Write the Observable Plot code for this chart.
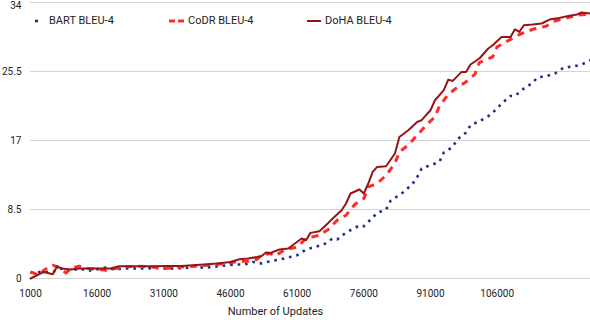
<!DOCTYPE html>
<html>
<head>
<meta charset="utf-8">
<script src="https://cdn.jsdelivr.net/npm/d3@7"></script>
<script src="https://cdn.jsdelivr.net/npm/@observablehq/plot@0.6"></script>
<style>
  html, body { margin: 0; padding: 0; background: #fff; }
  #wrap { position: relative; width: 590px; height: 320px; font-family: Roboto, "Noto Sans", sans-serif; }
  #legend { position: absolute; top: 14px; left: 0; width: 590px; height: 16px; font-size: 11px; color: #222; }
  .item { position: absolute; display: flex; align-items: center; gap: 4px; white-space: nowrap; }
</style>
</head>
<body>
<div id="wrap"></div>
<script>
// ---- data ----
const seriesNames = ["BART BLEU-4", "CoDR BLEU-4", "DoHA BLEU-4"];
const seriesColors = ["#1c2e8c", "#ff2b2b", "#981414"];

const bartX = [1000,3000,6000,8000,10000,12000,14000,18000,20000,22000,25000,27000,29000,31000,33000,36000,38000,40000,42000,44000,47000,49000,51000,53000,55000,57000,59000,61000,63000,65000,67000,69000,70000,72000,74000,75000,76000,78000,79000,81000,82000,84000,85000,87000,88000,89000,91000,93000,94000,96000,97000,99000,100000,102000,104000,106000,107000,109000,110000,112000,114000,115000,117000,119000,121000,123000,125000,127000];
const bartY = [0.7,0.81,0.81,1.23,0.94,1.23,0.94,1.35,1.11,1.23,1.23,1.23,1.31,1.23,1.23,1.31,1.55,1.31,1.43,1.55,1.72,1.72,2.04,1.85,2.13,2.34,2.59,2.87,3.57,3.89,4.19,4.93,4.8,5.67,6.23,6.53,6.44,7.51,8.08,8.5,9.56,10.3,10.67,11.7,12.48,13.55,13.96,14.36,15.52,16.21,17.12,17.98,18.88,19.38,19.99,20.94,21.56,22.49,22.49,23.4,24.1,24.76,24.92,25.25,25.99,26.11,26.36,26.89];

const codrX = [1000,3000,4000,6000,7000,9000,10000,12000,14000,18000,20000,22000,25000,28000,31000,33000,35000,39000,43000,45000,48000,50000,52000,53000,55000,56000,58000,61000,63000,66000,68000,70000,72000,74000,76000,77000,79000,81000,83000,84000,86000,88000,90000,92000,93000,95000,97000,99000,101000,102000,105000,106000,108000,111000,114000,117000,119000,122000,124000,127000];
const codrY = [0.81,0.41,1.02,1.64,1.43,0.69,1.23,1.52,1.23,1.02,1.23,1.43,1.52,1.43,1.23,1.31,1.43,1.55,1.76,1.85,2.13,2.13,2.38,2.87,3.08,2.75,3.49,3.89,4.93,5.33,6.04,7.18,7.8,9.15,9.85,11.28,11.7,12.72,14.17,15.6,16.42,17.65,18.88,19.9,21.22,22.7,23.53,24.22,25.17,26.6,27.3,28.53,29.15,30.06,30.7,31.08,31.73,32.15,32.43,32.56];

const dohaX = [1000,3000,4000,6000,7000,8000,10000,12000,15000,19000,21000,25000,29000,31000,35000,40000,43000,46000,48000,50000,52000,53000,54000,55000,57000,59000,62000,63000,64000,66000,68000,69000,71000,72000,73000,75000,76000,77000,78000,79000,81000,83000,84000,86000,88000,89000,91000,92000,94000,95000,96000,98000,99000,100000,102000,104000,105000,107000,109000,110000,111000,112000,114000,116000,118000,120000,122000,124000,125000,127000];
const dohaY = [0.0,0.53,0.81,0.53,1.52,1.23,1.11,1.23,1.23,1.23,1.52,1.52,1.52,1.55,1.55,1.72,1.85,2.04,2.38,2.46,2.66,2.78,3.2,3.15,3.57,3.7,4.93,4.72,5.62,5.83,6.85,7.39,8.41,9.24,10.47,10.96,10.47,11.7,13.13,13.75,13.83,15.4,17.44,18.27,19.29,19.5,20.73,21.96,23.2,24.5,24.34,25.45,25.45,26.36,27.1,28.33,28.74,29.76,29.76,30.7,30.38,31.2,31.29,31.41,31.94,32.1,32.35,32.52,32.77,32.64];

const xTicks = [1000,16000,31000,46000,61000,76000,91000,106000];
const yTicks = [0,8.5,17,25.5,34];
const xTitle = "Number of Updates";

// ---- build ----
const rows = (xs, ys) => xs.map((x, i) => ({x, y: ys[i]}));
const bart = rows(bartX, bartY), codr = rows(codrX, codrY), doha = rows(dohaX, dohaY);

const chart = Plot.plot({
  width: 590,
  height: 320,
  marginLeft: 30,
  marginRight: 0,
  marginTop: 2,
  marginBottom: 42,
  style: {fontFamily: "Roboto, 'Noto Sans', sans-serif", fontSize: "10px", color: "#222", background: "#fff", overflow: "visible"},
  x: {domain: [1000, 127000]},
  y: {domain: [0, 34]},
  marks: [
    Plot.gridY(yTicks, {stroke: "#d4d4d4", strokeOpacity: 1, strokeWidth: 1}),
    Plot.axisX(xTicks, {tickSize: 0, tickPadding: 11, tickFormat: d => String(d), fontSize: 10, label: null}),
    Plot.axisY(yTicks.slice(0, 4), {tickSize: 0, tickPadding: 9, tickFormat: d => String(d), fontSize: 10, label: null}),
    Plot.axisY(yTicks.slice(4), {tickSize: 0, tickPadding: 9, tickFormat: d => String(d), fontSize: 10, label: null, dy: 3}),
    Plot.text([xTitle], {frameAnchor: "bottom", text: d => d, dx: -35, dy: 36, fontSize: 11, fill: "#222"}),
    Plot.line(bart, {x: "x", y: "y", stroke: seriesColors[0], strokeWidth: 2.6, strokeDasharray: "2.6,4.9", strokeLinecap: "butt"}),
    Plot.line(codr, {x: "x", y: "y", stroke: seriesColors[1], strokeWidth: 3, strokeDasharray: "7,6", strokeLinecap: "butt"}),
    Plot.line(doha, {x: "x", y: "y", stroke: seriesColors[2], strokeWidth: 2})
  ]
});

const wrap = document.getElementById("wrap");
wrap.appendChild(chart);

// legend
const legend = document.createElement("div");
legend.id = "legend";
const swatches = [
  {left: 35, svg: `<line x1="0" y1="6" x2="3" y2="6" stroke="${seriesColors[0]}" stroke-width="2.6"/>`, w: 10},
  {left: 169, svg: `<line x1="0" y1="6" x2="15" y2="6" stroke="${seriesColors[1]}" stroke-width="3" stroke-dasharray="6,3"/>`, w: 15},
  {left: 307, svg: `<line x1="0" y1="6" x2="14" y2="6" stroke="${seriesColors[2]}" stroke-width="2"/>`, w: 14}
];
seriesNames.forEach((name, i) => {
  const it = document.createElement("div");
  it.className = "item";
  it.style.left = swatches[i].left + "px";
  it.innerHTML = `<svg width="${swatches[i].w}" height="12">${swatches[i].svg}</svg><span>${name}</span>`;
  legend.appendChild(it);
});
wrap.appendChild(legend);
</script>
</body>
</html>
